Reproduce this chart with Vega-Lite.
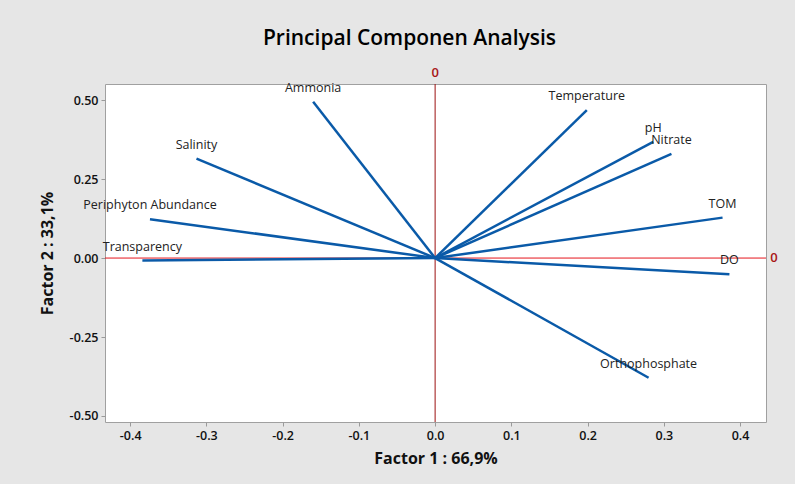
{
  "$schema": "https://vega.github.io/schema/vega-lite/v6.json",
  "autosize": "none",
  "width": 661,
  "height": 338,
  "padding": {"left": 105, "top": 84, "right": 29, "bottom": 62},
  "background": "#e6e6e6",
  "title": {
    "text": "Principal Componen Analysis",
    "font": "Open Sans",
    "fontSize": 21,
    "fontWeight": 600,
    "color": "#000000",
    "anchor": "middle",
    "dx": -26,
    "offset": 18
  },
  "config": {
    "view": {"fill": "#ffffff", "stroke": "#a0a0a0", "strokeWidth": 1},
    "axis": {
      "grid": false,
      "domain": false,
      "tickColor": "#9a9a9a",
      "tickSize": 4,
      "labelFont": "Open Sans",
      "labelFontSize": 12.5,
      "labelFontWeight": 600,
      "labelColor": "#111111",
      "labelPadding": 3,
      "titleFont": "Open Sans",
      "titleFontSize": 16,
      "titleFontWeight": "bold",
      "titleColor": "#111111"
    }
  },
  "datasets": {
    "loadings": [
      {"variable": "Ammonia", "f1": -0.160, "f2": 0.495},
      {"variable": "Salinity", "f1": -0.313, "f2": 0.315},
      {"variable": "Periphyton Abundance", "f1": -0.374, "f2": 0.123},
      {"variable": "Transparency", "f1": -0.384, "f2": -0.008},
      {"variable": "Temperature", "f1": 0.199, "f2": 0.468},
      {"variable": "pH", "f1": 0.286, "f2": 0.368},
      {"variable": "Nitrate", "f1": 0.310, "f2": 0.330},
      {"variable": "TOM", "f1": 0.377, "f2": 0.128},
      {"variable": "DO", "f1": 0.386, "f2": -0.051},
      {"variable": "Orthophosphate", "f1": 0.280, "f2": -0.379}
    ],
    "reference": [
      {"f1": 0, "f2": 0, "label": "0"}
    ]
  },
  "layer": [
    {
      "data": {"name": "reference"},
      "mark": {"type": "rule", "color": "#9b1010", "strokeWidth": 1},
      "encoding": {
        "x": {"field": "f1", "type": "quantitative", "scale": {"domain": [-0.433, 0.434], "nice": false, "zero": false}}
      }
    },
    {
      "data": {"name": "reference"},
      "mark": {"type": "rule", "color": "#e5141c", "strokeWidth": 1},
      "encoding": {
        "y": {"field": "f2", "type": "quantitative", "scale": {"domain": [-0.519, 0.551], "nice": false, "zero": false}}
      }
    },
    {
      "data": {"name": "loadings"},
      "mark": {"type": "rule", "color": "#0a5aa8", "strokeWidth": 2.5},
      "encoding": {
        "x": {
          "field": "f1",
          "type": "quantitative",
          "scale": {"domain": [-0.433, 0.434], "nice": false, "zero": false},
          "axis": {
            "title": "Factor 1 : 66,9%",
            "values": [-0.4, -0.3, -0.2, -0.1, 0, 0.1, 0.2, 0.3, 0.4],
            "format": ".1f",
            "labelExpr": "replace(datum.label, '\u2212', '-')",
            "titlePadding": 9
          }
        },
        "y": {
          "field": "f2",
          "type": "quantitative",
          "scale": {"domain": [-0.519, 0.551], "nice": false, "zero": false},
          "axis": {
            "title": "Factor 2 : 33,1%",
            "values": [-0.5, -0.25, 0, 0.25, 0.5],
            "format": ".2f",
            "labelExpr": "replace(datum.label, '\u2212', '-')",
            "titlePadding": 14
          }
        },
        "x2": {"datum": 0},
        "y2": {"datum": 0}
      }
    },
    {
      "data": {"name": "loadings"},
      "mark": {"type": "text", "font": "Open Sans", "fontSize": 12.5, "color": "#222222", "align": "center", "baseline": "middle", "dy": -14},
      "encoding": {
        "x": {"field": "f1", "type": "quantitative"},
        "y": {"field": "f2", "type": "quantitative"},
        "text": {"field": "variable"}
      }
    },
    {
      "data": {"name": "reference"},
      "mark": {"type": "text", "font": "Open Sans", "fontSize": 13, "fontWeight": 600, "color": "#a81414", "align": "center", "baseline": "middle", "dy": -11, "clip": false},
      "encoding": {
        "x": {"field": "f1", "type": "quantitative"},
        "y": {"datum": 0.551},
        "text": {"field": "label"}
      }
    },
    {
      "data": {"name": "reference"},
      "mark": {"type": "text", "font": "Open Sans", "fontSize": 13, "fontWeight": 600, "color": "#a81414", "align": "center", "baseline": "middle", "dx": 8, "clip": false},
      "encoding": {
        "x": {"datum": 0.434},
        "y": {"field": "f2", "type": "quantitative"},
        "text": {"field": "label"}
      }
    }
  ]
}
